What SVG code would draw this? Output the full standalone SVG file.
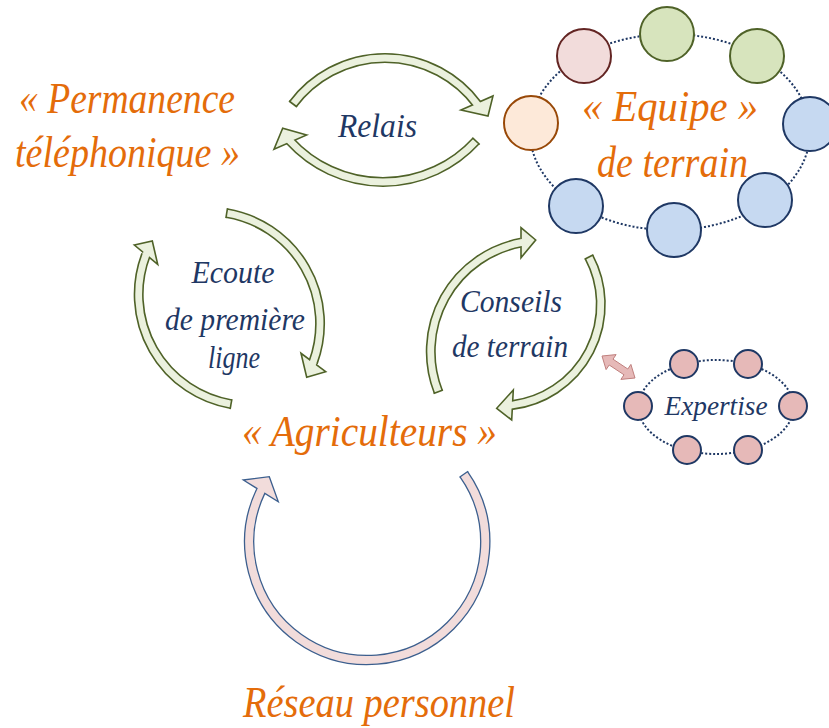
<svg xmlns="http://www.w3.org/2000/svg" width="829" height="728" viewBox="0 0 829 728">
<style>
.o{font-family:'Liberation Serif','DejaVu Serif',serif;font-style:italic;fill:#E46C0A;font-size:44px}
.n{font-family:'Liberation Serif','DejaVu Serif',serif;font-style:italic;fill:#1F3864}
.gb{fill:none;stroke:#4F6228;stroke-width:10}
.gf{fill:none;stroke:#EBF1DE;stroke-width:6.8}
.gh{fill:#EBF1DE;stroke:#4F6228;stroke-width:1.6}
.gc{stroke:#4F6228;stroke-width:1.6}
.pb{fill:none;stroke:#3C5F8E;stroke-width:10.5}
.pf{fill:none;stroke:#F2DCDB;stroke-width:7.9}
.ph{fill:#F2DCDB;stroke:#3C5F8E;stroke-width:1.3}
.pc{stroke:#3C5F8E;stroke-width:1.3}
.dot{fill:none;stroke:#1F3864;stroke-width:2;stroke-dasharray:2 2}
.cp{fill:#F2DCDB;stroke:#632523;stroke-width:2}
.cg{fill:#D7E4BD;stroke:#4F6228;stroke-width:2}
.co{fill:#FDE9D9;stroke:#984807;stroke-width:2}
.cb{fill:#C6D9F1;stroke:#1F3864;stroke-width:2}
.ce{fill:#E6B9B8;stroke:#1F3864;stroke-width:2}
</style>
<rect width="829" height="728" fill="#FFFFFF"/>

<g id="connectors">
  <g id="relais-top">
    <path class="gb" d="M293,104 A115,115 0 0 1 477,104"/>
    <polygon class="gh" points="461,110 493,96 488,116"/>
    <path class="gf" d="M293,104 A115,115 0 0 1 477,104 L478.8,106.4"/>
    <line class="gc" x1="289" y1="101" x2="297" y2="107"/>
  </g>
  <g id="relais-bottom">
    <path class="gb" d="M476,141 A126,126 0 0 1 290,141"/>
    <polygon class="gh" points="306.7,135 282.7,128.3 274,149.3"/>
    <path class="gf" d="M476,141 A126,126 0 0 1 290,141 L288,138.8"/>
    <line class="gc" x1="479.7" y1="144.5" x2="472.3" y2="137.6"/>
  </g>
  <g id="ecoute-right">
    <path class="gb" d="M226.7,213.1 A112,112 0 0 1 313.1,362.4"/>
    <polygon class="gh" points="301,353.3 306.7,377.3 325.7,371.7"/>
    <path class="gf" d="M226.7,213.1 A112,112 0 0 1 313.1,362.4 L312.1,365.2"/>
    <line class="gc" x1="227.5" y1="208.1" x2="225.9" y2="218.1"/>
  </g>
  <g id="ecoute-left">
    <path class="gb" d="M231,404.1 A111.3,111.3 0 0 1 146,254.7"/>
    <polygon class="gh" points="134.3,245 152.3,241 157.7,264.3"/>
    <path class="gf" d="M231,404.1 A111.3,111.3 0 0 1 146,254.7 L147.1,251.9"/>
    <line class="gc" x1="230.1" y1="409.1" x2="231.9" y2="399.2"/>
  </g>
  <g id="conseils-left">
    <path class="gb" d="M438.3,391.7 A110.7,110.7 0 0 1 521,242.7"/>
    <polygon class="gh" points="521,227.7 535.7,240 521,257.7"/>
    <path class="gf" d="M438.3,391.7 A110.7,110.7 0 0 1 521,242.7 L524,242.1"/>
    <line class="gc" x1="433.6" y1="393.5" x2="443" y2="389.9"/>
  </g>
  <g id="conseils-right">
    <path class="gb" d="M589,257 A101.3,101.3 0 0 1 512.5,405"/>
    <polygon class="gh" points="513.3,390 496.7,408.3 511.7,420"/>
    <path class="gf" d="M589,257 A101.3,101.3 0 0 1 512.5,405 L509.5,405.4"/>
    <line class="gc" x1="593.4" y1="254.7" x2="584.6" y2="259.3"/>
  </g>
  <g id="reseau-loop">
    <path class="pb" d="M463.8,474.2 A118,118 0 1 1 260.9,490.9"/>
    <polygon class="ph" points="243.3,480 269.3,476.7 278.3,501.7"/>
    <path class="pf" d="M463.8,474.2 A118,118 0 1 1 260.9,490.9 L262.2,488.2"/>
    <line class="pc" x1="468.1" y1="471.2" x2="459.5" y2="477.2"/>
  </g>
  <g id="expertise-link">
    <polygon points="602,356 616.1,354.6 613,359.2 627.8,369 630.9,364.4 635,378 620.9,379.4 624,374.8 609.2,365 606.1,369.6" fill="#E6B9B8" stroke="#C0807E" stroke-width="1"/>
  </g>
</g>

<g id="labels">
  <text class="n" x="338" y="137" font-size="34" textLength="79" lengthAdjust="spacingAndGlyphs">Relais</text>
  <text class="n" x="233" y="283" font-size="32" text-anchor="middle" textLength="83" lengthAdjust="spacingAndGlyphs">Ecoute</text>
  <text class="n" x="235" y="330" font-size="32" text-anchor="middle" textLength="140" lengthAdjust="spacingAndGlyphs">de première</text>
  <text class="n" x="234" y="368" font-size="32" text-anchor="middle" textLength="52" lengthAdjust="spacingAndGlyphs">ligne</text>
  <text class="n" x="511" y="312" font-size="32" text-anchor="middle" textLength="102" lengthAdjust="spacingAndGlyphs">Conseils</text>
  <text class="n" x="510" y="357" font-size="32" text-anchor="middle" textLength="116" lengthAdjust="spacingAndGlyphs">de terrain</text>
</g>

<g id="permanence">
  <text class="o" x="19" y="113" textLength="216" lengthAdjust="spacingAndGlyphs">« Permanence</text>
  <text class="o" x="15" y="167" textLength="225" lengthAdjust="spacingAndGlyphs">téléphonique »</text>
</g>

<g id="equipe">
  <ellipse class="dot" cx="670" cy="132" rx="140" ry="98"/>
  <circle class="cp" cx="584" cy="56" r="27"/>
  <circle class="cg" cx="667" cy="34" r="27"/>
  <circle class="cg" cx="757" cy="56" r="27"/>
  <circle class="co" cx="531" cy="123" r="27"/>
  <circle class="cb" cx="810" cy="124" r="27"/>
  <circle class="cb" cx="576" cy="206" r="27"/>
  <circle class="cb" cx="674" cy="230" r="27"/>
  <circle class="cb" cx="765" cy="200" r="27"/>
  <text class="o" x="582" y="121" textLength="176" lengthAdjust="spacingAndGlyphs">« Equipe »</text>
  <text class="o" x="597" y="177" textLength="151" lengthAdjust="spacingAndGlyphs">de terrain</text>
</g>

<g id="agriculteurs">
  <text class="o" x="242" y="446" textLength="255" lengthAdjust="spacingAndGlyphs">« Agriculteurs »</text>
</g>

<g id="reseau">
  <text class="o" x="243" y="717" textLength="272" lengthAdjust="spacingAndGlyphs">Réseau personnel</text>
</g>

<g id="expertise">
  <ellipse class="dot" cx="716" cy="407" rx="77.5" ry="47"/>
  <circle class="ce" cx="684" cy="364" r="14"/>
  <circle class="ce" cx="748" cy="364" r="14"/>
  <circle class="ce" cx="638" cy="406" r="14"/>
  <circle class="ce" cx="793" cy="406" r="14"/>
  <circle class="ce" cx="687" cy="450" r="14"/>
  <circle class="ce" cx="748" cy="450" r="14"/>
  <text class="n" x="716" y="415" font-size="28" text-anchor="middle" textLength="103" lengthAdjust="spacingAndGlyphs">Expertise</text>
</g>
</svg>
